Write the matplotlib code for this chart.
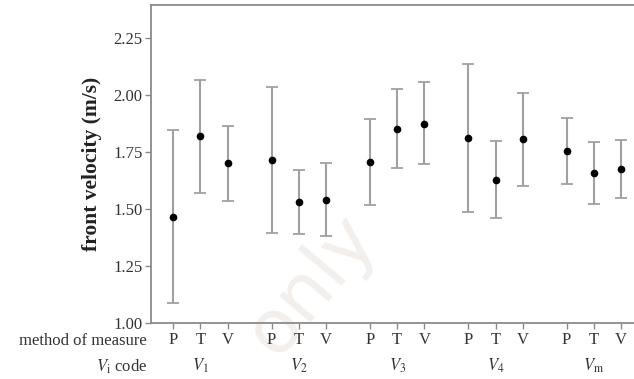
import matplotlib
matplotlib.use("Agg")
from matplotlib import pyplot as plt
from matplotlib import transforms

plt.rcParams['font.family'] = ['Liberation Serif', 'DejaVu Serif']
plt.rcParams['mathtext.fontset'] = 'stix'

# data
methods = ['P', 'T', 'V'] * 5
groups = ['$V_1$', '$V_2$', '$V_3$', '$V_4$', '$V_\\mathrm{m}$']
means = [1.466, 1.819, 1.700, 1.715, 1.531, 1.541, 1.706, 1.851, 1.875,
         1.813, 1.629, 1.806, 1.755, 1.659, 1.677]
upper = [1.847, 2.065, 1.865, 2.036, 1.673, 1.702, 1.895, 2.026, 2.057,
         2.138, 1.799, 2.010, 1.898, 1.794, 1.802]
lower = [1.088, 1.571, 1.535, 1.396, 1.391, 1.382, 1.517, 1.679, 1.696,
         1.487, 1.459, 1.600, 1.610, 1.523, 1.549]
yticks = [1.00, 1.25, 1.50, 1.75, 2.00, 2.25]

gap = 3.61
xs = [g * gap + i for g in range(5) for i in range(3)]
err = [[m - lo for m, lo in zip(means, lower)], [hi - m for m, hi in zip(means, upper)]]

fig = plt.figure(figsize=(6.34, 3.79), dpi=100)
ax = fig.add_axes([0.238, 0.1485, 0.77, 0.8385])
ax.patch.set_alpha(0)

# watermark, behind everything
fig.text(312 / 634, 1 - 285 / 379, 'only', family='DejaVu Sans', fontsize=54,
         rotation=50, color='#f3efec', ha='center', va='center', zorder=-1)

ax.errorbar(xs, means, yerr=err, fmt='o', color='black', markersize=4.5,
            ecolor='#a0a0a0', elinewidth=1.5, capsize=4.5, capthick=1.3, zorder=3)

ax.set_xlim(-0.82, 17.1)
ax.set_ylim(1.0, 2.396)
ax.set_yticks(yticks)
ax.set_yticklabels(['%.2f' % v for v in yticks])
ax.set_xticks(xs)
ax.set_xticklabels(methods)

for s in ['left', 'top', 'bottom']:
    ax.spines[s].set_color('#8a8a8a')
    ax.spines[s].set_linewidth(1.3)
ax.spines['right'].set_visible(False)
ax.tick_params(axis='both', colors='#8a8a8a', length=4, width=1, labelcolor='#333333',
               labelsize=12)
ax.tick_params(axis='x', pad=2.5)
ax.tick_params(axis='y', pad=2)

ax.set_ylabel('front velocity (m/s)', fontsize=15.5, fontweight='bold', color='#222222',
              labelpad=8)

trans = transforms.blended_transform_factory(ax.transData, fig.transFigure)
for g, name in enumerate(groups):
    ax.text(g * gap + 1, 1 - 366 / 379, name, transform=trans, ha='center', va='center',
            fontsize=12, color='#333333')

fig.text(147 / 634, 1 - 341 / 379, 'method of measure', ha='right', va='center',
         fontsize=12, color='#333333')
fig.text(147 / 634, 1 - 367 / 379, '$V_\\mathrm{i}$ code', ha='right', va='center',
         fontsize=12, color='#333333')

fig.savefig('out.png', dpi=100)
